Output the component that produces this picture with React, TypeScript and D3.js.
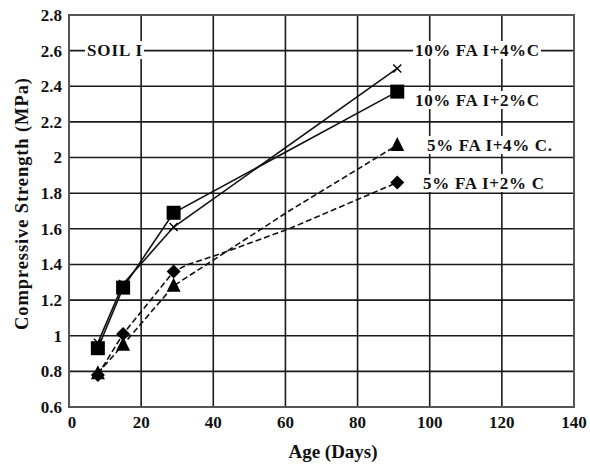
import { useRef, useEffect } from 'react';
import * as d3 from 'd3';

// Ages (days) where the tested specimens are marked
const markerDays = [8, 15, 29, 91];

// 10% FA I + 4% C (cross, solid)
const fa10c4Days = [8, 15, 29, 91];
const fa10c4Vals = [0.96, 1.29, 1.61, 2.5];

// 10% FA I + 2% C (square, solid)
const fa10c2Days = [8, 15, 29, 91];
const fa10c2Vals = [0.93, 1.27, 1.69, 2.37];

// 5% FA I + 4% C (triangle, dashed)
const fa5c4Days = [8, 15, 29, 61, 91];
const fa5c4Vals = [0.79, 0.95, 1.28, 1.7, 2.07];

// 5% FA I + 2% C (diamond, dashed)
const fa5c2Days = [8, 15, 29, 33, 42, 61, 91];
const fa5c2Vals = [0.78, 1.01, 1.36, 1.4, 1.46, 1.6, 1.86];

const xTicks = [0, 20, 40, 60, 80, 100, 120, 140];
const yTicks = [0.6, 0.8, 1, 1.2, 1.4, 1.6, 1.8, 2, 2.2, 2.4, 2.6, 2.8];

const series = [
  { name: '10% FA I+4%C', days: fa10c4Days, vals: fa10c4Vals, marker: 'cross', dash: null, labelX: 415, labelY: 50, labelW: 124 },
  { name: '10% FA I+2%C', days: fa10c2Days, vals: fa10c2Vals, marker: 'square', dash: null, labelX: 415, labelY: 100, labelW: 124 },
  { name: '5% FA I+4% C.', days: fa5c4Days, vals: fa5c4Vals, marker: 'triangle', dash: '6,3', labelX: 427, labelY: 145, labelW: 125 },
  { name: '5% FA I+2% C', days: fa5c2Days, vals: fa5c2Vals, marker: 'diamond', dash: '6,3', labelX: 423, labelY: 183, labelW: 121 },
];

const FONT = '"Liberation Serif", "Times New Roman", serif';

export default function App() {
  const svgRef = useRef<SVGSVGElement>(null);

  useEffect(() => {
    const svg = d3.select(svgRef.current);
    svg.selectAll('*').remove();

    const left = 69, right = 574, top = 15, bottom = 407;
    const x = d3.scaleLinear().domain([0, 140]).range([left, right]);
    const y = d3.scaleLinear().domain([0.6, 2.8]).range([bottom, top]);

    svg.append('rect').attr('width', 590).attr('height', 464).attr('fill', '#fff');

    // grid
    const grid = svg.append('g');
    yTicks.slice(1, -1).forEach(t => {
      grid.append('line').attr('x1', left).attr('x2', right).attr('y1', y(t)).attr('y2', y(t))
        .attr('stroke', '#1a1a1a').attr('stroke-width', 1.6);
    });
    xTicks.slice(1, -1).forEach(t => {
      grid.append('line').attr('x1', x(t)).attr('x2', x(t)).attr('y1', top).attr('y2', bottom)
        .attr('stroke', '#1a1a1a').attr('stroke-width', 1.6);
    });
    svg.append('rect').attr('x', left).attr('y', top).attr('width', right - left).attr('height', bottom - top)
      .attr('fill', 'none').attr('stroke', '#555').attr('stroke-width', 2);

    // tick labels
    yTicks.forEach(t => {
      svg.append('text').attr('x', 62).attr('y', y(t)).attr('dy', '0.35em')
        .attr('text-anchor', 'end').attr('font-family', FONT).attr('font-weight', 'bold')
        .attr('font-size', 17).attr('fill', '#111').text(String(t));
    });
    xTicks.forEach(t => {
      svg.append('text').attr('x', x(t) + (t === 0 ? 3 : 0)).attr('y', 428)
        .attr('text-anchor', 'middle').attr('font-family', FONT).attr('font-weight', 'bold')
        .attr('font-size', 17).attr('fill', '#111').text(String(t));
    });

    // axis titles
    svg.append('text').attr('x', 333).attr('y', 458).attr('text-anchor', 'middle')
      .attr('font-family', FONT).attr('font-weight', 'bold').attr('font-size', 19).attr('fill', '#111')
      .text('Age (Days)');
    svg.append('text').attr('transform', 'translate(28,204) rotate(-90)').attr('text-anchor', 'middle')
      .attr('font-family', FONT).attr('font-weight', 'bold').attr('font-size', 18.5).attr('fill', '#111')
      .attr('textLength', 252).attr('lengthAdjust', 'spacing')
      .text('Compressive  Strength (MPa)');

    // labels with white backing
    const label = (txt: string, lx: number, ly: number, w: number) => {
      svg.append('rect').attr('x', lx - 2).attr('y', ly - 9).attr('width', w + 4).attr('height', 18).attr('fill', '#fff');
      svg.append('text').attr('x', lx).attr('y', ly).attr('dy', '0.35em')
        .attr('font-family', FONT).attr('font-weight', 'bold').attr('font-size', 17).attr('fill', '#111')
        .attr('textLength', w).attr('lengthAdjust', 'spacing').text(txt);
    };
    label('SOIL I', 87, 50, 55);

    const line = d3.line<[number, number]>().x(d => x(d[0])).y(d => y(d[1]));

    series.forEach(s => {
      const pts = s.days.map((d, i) => [d, s.vals[i]] as [number, number]);
      svg.append('path').datum(pts).attr('d', line).attr('fill', 'none')
        .attr('stroke', '#111').attr('stroke-width', 1.6)
        .attr('stroke-dasharray', s.dash ?? null);
    });

    series.forEach(s => {
      const pts = s.days.map((d, i) => [d, s.vals[i]] as [number, number]).filter(p => markerDays.includes(p[0]));
      pts.forEach(([d, v]) => {
        const cx = x(d), cy = y(v);
        if (s.marker === 'square') {
          svg.append('rect').attr('x', cx - 7).attr('y', cy - 7).attr('width', 14).attr('height', 14).attr('fill', '#000');
        } else if (s.marker === 'triangle') {
          svg.append('path').attr('d', `M${cx},${cy - 8}L${cx + 7},${cy + 6}L${cx - 7},${cy + 6}Z`).attr('fill', '#000');
        } else if (s.marker === 'diamond') {
          svg.append('path').attr('d', `M${cx},${cy - 7}L${cx + 7},${cy}L${cx},${cy + 7}L${cx - 7},${cy}Z`).attr('fill', '#000');
        } else {
          svg.append('path').attr('d', `M${cx - 4},${cy - 4}L${cx + 4},${cy + 4}M${cx + 4},${cy - 4}L${cx - 4},${cy + 4}`)
            .attr('stroke', '#000').attr('stroke-width', 1.4);
        }
      });
      label(s.name, s.labelX, s.labelY, s.labelW);
    });
  }, []);

  return (
    <svg ref={svgRef} width={590} height={464} style={{ position: 'absolute', left: 0, top: 0, display: 'block' }} />
  );
}
